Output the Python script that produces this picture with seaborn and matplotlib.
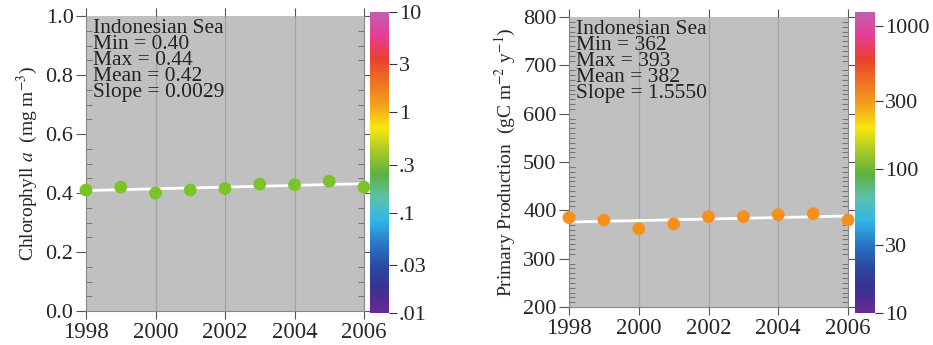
import numpy as np
import pandas as pd
import matplotlib
matplotlib.use("Agg")
import matplotlib.pyplot as plt
import seaborn as sns
from matplotlib.colors import LinearSegmentedColormap, LogNorm
from matplotlib.colorbar import ColorbarBase
from matplotlib.ticker import MultipleLocator

# ---- data ----
years = [1998, 1999, 2000, 2001, 2002, 2003, 2004, 2005, 2006]
chl = [0.41, 0.42, 0.40, 0.41, 0.415, 0.43, 0.428, 0.44, 0.42]
pp = [385, 380, 362, 372, 387, 387, 391, 393, 380]
region = "Indonesian Sea"
chl_stats = {"Min": "0.40", "Max": "0.44", "Mean": "0.42", "Slope": "0.0029"}
pp_stats = {"Min": "362", "Max": "393", "Mean": "382", "Slope": "1.5550"}
chl_mean, chl_slope = 0.42, 0.0029
pp_mean, pp_slope = 382, 1.5550
chl_cbar_ticks = [0.01, 0.03, 0.1, 0.3, 1, 3, 10]
chl_cbar_labels = [".01", ".03", ".1", ".3", "1", "3", "10"]
pp_cbar_ticks = [10, 30, 100, 300, 1000]
pp_cbar_labels = ["10", "30", "100", "300", "1000"]
xticks = [1998, 2000, 2002, 2004, 2006]

sns.set_theme(style="white")
plt.rcParams["font.family"] = ["Liberation Serif", "DejaVu Serif"]
plt.rcParams["mathtext.fontset"] = "stix"

cmap = LinearSegmentedColormap.from_list("chl", [
    "#6a2a92", "#3a3090", "#2a4aa0", "#2878c8", "#30b8e8", "#5ec0a8",
    "#5cb040", "#a8c828", "#f8e810", "#f5a01e", "#f07020", "#e84030",
    "#e83c96", "#c060b0"])

fig = plt.figure(figsize=(9.33, 3.45), dpi=100)
W, H = 933, 345

def fr(x0, y0, x1, y1):
    return [x0 / W, 1 - y1 / H, (x1 - x0) / W, (y1 - y0) / H]

ax1 = fig.add_axes(fr(86, 16, 364, 311))
cax1 = fig.add_axes(fr(370, 12, 389, 313))
ax2 = fig.add_axes(fr(569, 17, 848, 307))
cax2 = fig.add_axes(fr(855, 12, 875, 313))

def panel(ax, cax, vals, mean, slope, stats, ylim, ymajor, yminor, ylabel,
          norm, cticks, clabels, color):
    df = pd.DataFrame({"year": years, "val": vals})
    ax.set_facecolor("#c0c0c0")
    for xv in [2000, 2002, 2004]:
        ax.axvline(xv, color="#a4a4a4", lw=0.9, zorder=0)
    line = pd.DataFrame({"year": [years[0], years[-1]]})
    line["val"] = mean + slope * (line["year"] - np.mean(years))
    sns.lineplot(data=line, x="year", y="val", ax=ax, color="white", lw=2.0,
                 zorder=2)
    sns.scatterplot(data=df, x="year", y="val", ax=ax, color=color, s=85,
                    edgecolor="none", zorder=3, clip_on=False)
    ax.set_xlim(1998, 2006)
    ax.set_ylim(*ylim)
    ax.set_xticks(xticks)
    ax.set_xticklabels([str(v) for v in xticks], fontsize=16.5)
    ax.yaxis.set_major_locator(MultipleLocator(ymajor))
    ax.yaxis.set_minor_locator(MultipleLocator(yminor))
    ax.tick_params(axis="y", which="major", direction="out", length=7,
                   width=0.8, color="#555555", labelsize=16, left=True,
                   right=True, pad=2)
    ax.tick_params(axis="y", which="minor", direction="in", length=4,
                   width=0.6, color="#666666", left=True, right=True)
    ax.tick_params(axis="x", which="major", direction="out", length=6,
                   width=0.8, color="#555555", bottom=True, top=True, pad=2)
    for s in ax.spines.values():
        s.set_color("#888888")
        s.set_linewidth(0.8)
    ax.spines["top"].set_visible(False)
    ax.set_xlabel("")
    ax.set_ylabel(ylabel, fontsize=14, labelpad=4)
    txt = region + "\n" + "\n".join(f"{k} = {v}" for k, v in stats.items())
    ax.text(0.025, 0.99, txt, transform=ax.transAxes, va="top", ha="left",
            fontsize=15.5, linespacing=0.78, color="#222222")
    cb = ColorbarBase(cax, cmap=cmap, norm=norm, orientation="vertical")
    cb.outline.set_visible(False)
    cb.set_ticks(cticks)
    cb.set_ticklabels(clabels)
    cax.minorticks_off()
    cax.tick_params(axis="y", which="both", direction="out", length=6,
                    width=0.8, color="#333333", labelsize=16, pad=1)

panel(ax1, cax1, chl, chl_mean, chl_slope, chl_stats, (0, 1.0), 0.2, 0.05,
      r"Chlorophyll $\mathit{a}$  (mg m$^{-3}$)", LogNorm(0.01, 10),
      chl_cbar_ticks, chl_cbar_labels, "#7ac428")
panel(ax2, cax2, pp, pp_mean, pp_slope, pp_stats, (200, 800), 100, 10,
      r"Primary Production  (gC m$^{-2}$ y$^{-1}$)", LogNorm(10, 1250),
      pp_cbar_ticks, pp_cbar_labels, "#f5901a")

fig.savefig("out.png", dpi=100)
